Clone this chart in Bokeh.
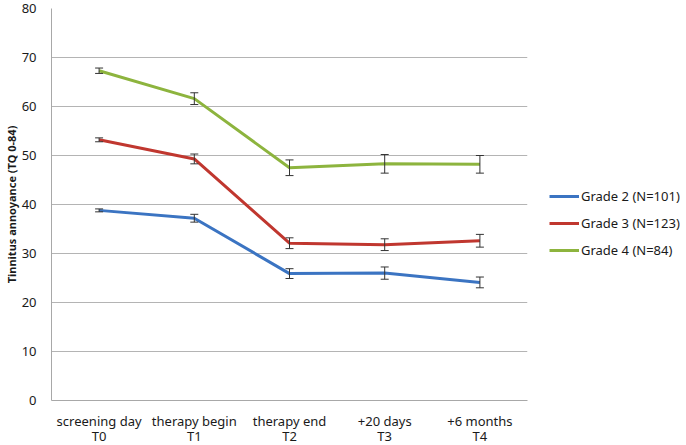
from bokeh.plotting import figure
from bokeh.models import (ColumnDataSource, Whisker, TeeHead, FixedTicker, Legend, LegendItem,
                          CategoricalAxis, FactorRange)
from bokeh.embed import file_html
from bokeh.resources import INLINE

categories = ["screening day", "therapy begin", "therapy end", "+20 days", "+6 months"]
time_points = ["T0", "T1", "T2", "T3", "T4"]
grade2 = [38.8, 37.2, 25.9, 26.0, 24.1]
grade2_err = [0.3, 0.8, 1.0, 1.25, 1.1]
grade3 = [53.2, 49.3, 32.1, 31.8, 32.6]
grade3_err = [0.4, 1.0, 1.1, 1.2, 1.3]
grade4 = [67.3, 61.6, 47.5, 48.3, 48.2]
grade4_err = [0.55, 1.2, 1.6, 1.9, 1.8]
series_names = ["Grade 2 (N=101)", "Grade 3 (N=123)", "Grade 4 (N=84)"]
colors = ["#3B74C2", "#C0372F", "#8DB43E"]
y_ticks = [0, 10, 20, 30, 40, 50, 60, 70, 80]

FONT = "Noto Sans"

p = figure(x_range=categories, y_range=(0, 80), frame_width=476, frame_height=392,
           output_backend="svg", toolbar_location=None, title=None,
           min_border_left=39, min_border_right=150, min_border_top=8, min_border_bottom=45)
p.outline_line_color = None
p.background_fill_color = "white"
p.border_fill_color = "white"

p.xgrid.grid_line_color = None
p.ygrid.grid_line_color = "#B4B4B4"
p.ygrid.grid_line_width = 1
p.yaxis.ticker = FixedTicker(ticks=y_ticks)

p.extra_x_ranges = {"tp": FactorRange(factors=time_points)}
ax2 = CategoricalAxis(x_range_name="tp")
p.add_layout(ax2, "below")

for ax in (p.xaxis[0], p.yaxis[0], ax2):
    ax.axis_line_color = "#A8A8A8"
    ax.major_tick_line_color = None
    ax.minor_tick_line_color = None
    ax.major_label_text_font = FONT
    ax.major_label_text_font_size = "13px"
    ax.major_label_text_color = "#1A1A1A"
ax2.axis_line_color = None
ax2.major_label_standoff = -12

p.yaxis.major_label_standoff = 9
p.xaxis[0].major_label_standoff = 5
p.yaxis.axis_label = "Tinnitus annoyance (TQ 0-84)"
p.yaxis.axis_label_text_font = FONT
p.yaxis.axis_label_text_font_style = "bold"
p.yaxis.axis_label_text_font_size = "11px"
p.yaxis.axis_label_standoff = 0
p.yaxis.axis_label_text_color = "#1A1A1A"

items = []
for name, vals, errs, col in zip(series_names, [grade2, grade3, grade4],
                                 [grade2_err, grade3_err, grade4_err], colors):
    src = ColumnDataSource(dict(x=categories, y=vals,
                                upper=[v + e for v, e in zip(vals, errs)],
                                lower=[v - e for v, e in zip(vals, errs)]))
    r = p.line("x", "y", source=src, line_color=col, line_width=3)
    items.append(LegendItem(label=name, renderers=[r]))
    w = Whisker(base="x", upper="upper", lower="lower", source=src,
                line_color="#333333", line_width=1, level="overlay",
                upper_head=TeeHead(size=8, line_color="#333333", line_width=1),
                lower_head=TeeHead(size=8, line_color="#333333", line_width=1))
    p.add_layout(w)

legend = Legend(items=items, location=(22, 138), padding=0, margin=0,
                border_line_color=None, background_fill_alpha=0,
                glyph_width=30, glyph_height=24, label_height=24, spacing=3,
                label_standoff=2, label_text_font=FONT, label_text_font_size="13px",
                label_text_color="#1A1A1A")
p.add_layout(legend, "right")

open("out.html", "w").write(file_html(p, INLINE))
